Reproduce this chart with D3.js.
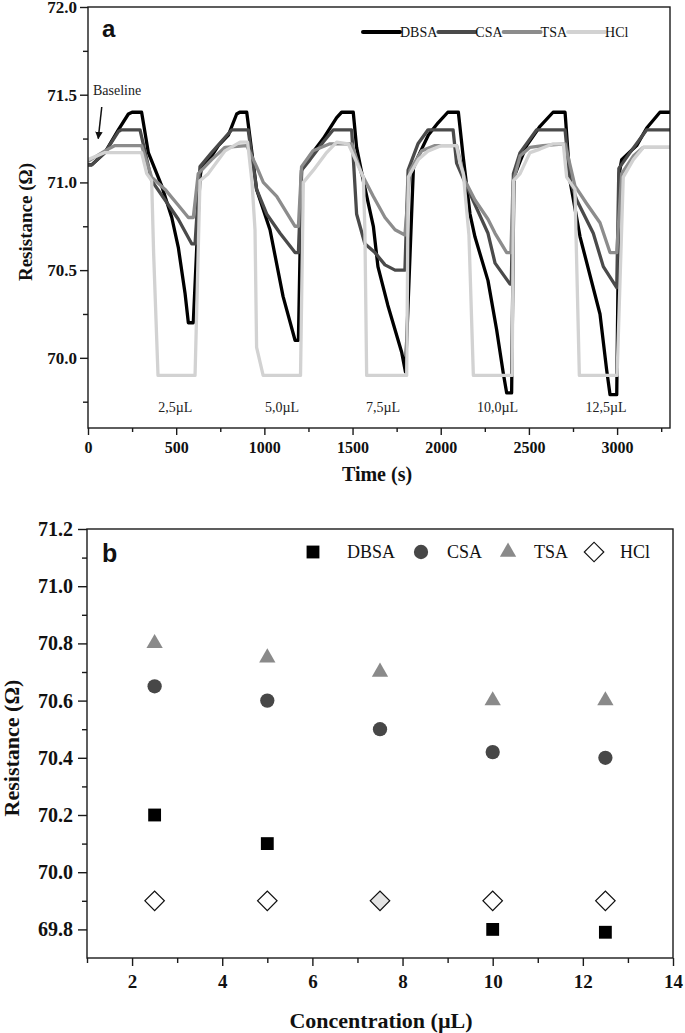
<!DOCTYPE html>
<html><head><meta charset="utf-8">
<script src="https://cdn.jsdelivr.net/npm/d3@7"></script>
<style>body{margin:0;background:#fff;} svg{display:block;background:#fff}</style>
</head><body>
<svg id="c" width="685" height="1033"></svg>
<script>
// ---------- DATA: panel a (time response) ----------
const seriesNames = ["DBSA","CSA","TSA","HCl"];
const dbsaSeries = [[0,71.10],[21,71.10],[96,71.17],[172,71.30],[229,71.39],[250,71.40],[304,71.40],[342,71.17],[418,70.98],[475,70.80],[512,70.63],[550,70.37],[569,70.20],[597,70.20],
 [635,71.03],[645,71.09],[701,71.15],[739,71.21],[796,71.27],[843,71.39],[860,71.40],[900,71.40],
 [956,70.96],[1032,70.73],[1106,70.35],[1174,70.10],[1193,70.10],
 [1211,71.07],[1259,71.15],[1334,71.25],[1410,71.37],[1438,71.40],[1504,71.40],
 [1523,71.20],[1561,71.01],[1618,70.75],[1644,70.52],[1700,70.30],[1779,70.03],[1800,69.92],
 [1845,71.08],[1873,71.15],[1930,71.27],[1985,71.34],[2040,71.40],[2100,71.40],
 [2127,71.15],[2166,70.82],[2194,70.69],[2268,70.44],[2317,70.16],[2355,69.91],[2374,69.80],[2402,69.80],
 [2415,71.03],[2450,71.12],[2487,71.21],[2563,71.32],[2637,71.40],[2705,71.40],
 [2733,71.01],[2790,70.69],[2903,70.25],[2941,69.93],[2960,69.79],[2998,69.79],
 [3012,71.05],[3026,71.13],[3111,71.21],[3168,71.31],[3243,71.40],[3300,71.40]];
const csaSeries = [[0,71.10],[21,71.10],[96,71.17],[172,71.29],[190,71.30],[295,71.30],[361,71.01],[437,70.90],[512,70.79],[588,70.65],[607,70.65],
 [635,71.09],[701,71.17],[815,71.30],[908,71.30],
 [956,70.96],[1013,70.82],[1089,70.71],[1174,70.60],[1193,70.60],
 [1211,71.07],[1259,71.13],[1334,71.23],[1391,71.30],[1495,71.30],
 [1523,70.82],[1570,70.65],[1627,70.60],[1684,70.53],[1741,70.50],[1797,70.50],
 [1815,71.07],[1871,71.22],[1928,71.30],[2070,71.30],
 [2090,71.11],[2155,70.96],[2268,70.71],[2308,70.54],[2393,70.42],[2400,70.42],
 [2412,71.05],[2450,71.17],[2544,71.30],[2705,71.30],
 [2733,71.01],[2771,70.90],[2865,70.71],[2922,70.52],[2998,70.40],
 [3010,71.08],[3073,71.17],[3168,71.30],[3300,71.30]];
const tsaSeries = [[0,71.12],[96,71.18],[153,71.21],[304,71.21],[361,71.03],[437,70.96],[512,70.87],[569,70.80],[597,70.80],
 [625,71.05],[701,71.13],[777,71.20],[900,71.21],
 [956,71.09],[994,71.00],[1070,70.92],[1174,70.75],[1193,70.75],
 [1211,71.09],[1276,71.18],[1372,71.22],[1495,71.22],
 [1551,71.05],[1618,70.92],[1684,70.80],[1741,70.73],[1797,70.70],
 [1826,71.07],[1892,71.18],[1967,71.21],[2090,71.21],
 [2138,71.01],[2194,70.90],[2268,70.79],[2308,70.71],[2374,70.60],[2398,70.60],
 [2410,71.00],[2450,71.15],[2506,71.20],[2580,71.21],[2705,71.22],
 [2761,70.98],[2827,70.88],[2903,70.77],[2960,70.60],[2998,70.60],
 [3026,71.05],[3092,71.15],[3149,71.20],[3300,71.20]];
const hclSeries = [[0,71.13],[96,71.17],[304,71.17],[333,71.05],[361,71.01],[372,70.60],[397,69.90],[607,69.90],
 [635,71.01],[682,71.05],[777,71.18],[862,71.23],[905,71.23],
 [930,71.00],[947,70.73],[956,70.06],[993,69.90],[1205,69.90],
 [1221,71.00],[1278,71.07],[1353,71.17],[1410,71.23],[1476,71.22],
 [1561,71.03],[1570,70.73],[1580,69.90],[1807,69.90],
 [1816,71.03],[1873,71.13],[1930,71.18],[2005,71.21],[2090,71.21],
 [2109,71.11],[2128,71.05],[2160,70.70],[2185,69.90],[2405,69.90],
 [2413,71.01],[2450,71.05],[2506,71.17],[2563,71.19],[2638,71.22],[2695,71.22],
 [2714,71.03],[2761,70.96],[2786,69.90],[3000,69.90],
 [3035,71.03],[3092,71.13],[3149,71.20],[3300,71.20]];
const timeMajorTicks = [0,500,1000,1500,2000,2500,3000];
const timeMinorTicks = [250,750,1250,1750,2250,2750,3250];
const resAMajorTicks = [70.0,70.5,71.0,71.5,72.0];
const resAMinorTicks = [69.75,70.25,70.75,71.25,71.75];
const injectionLabels = ["2,5µL","5,0µL","7,5µL","10,0µL","12,5µL"];
const injectionLabelTimes = [495,1100,1673,2322,2937];

// ---------- DATA: panel b (concentration) ----------
const concentrations = [2.5,5.0,7.5,10.0,12.5];
const dbsaValues = [70.20,70.10,null,69.80,69.79];
const csaValues = [70.65,70.60,70.50,70.42,70.40];
const tsaValues = [70.80,70.75,70.70,70.60,70.60];
const hclValues = [69.90,69.90,69.90,69.90,69.90];
const concMajorTicks = [2,4,6,8,10,12,14];
const concMinorTicks = [1,3,5,7,9,11,13];
const resBMajorTicks = [69.8,70.0,70.2,70.4,70.6,70.8,71.0,71.2];
const resBMinorTicks = [69.9,70.1,70.3,70.5,70.7,70.9,71.1];

// ---------- STYLE ----------
const lineColors = ["#000000","#4a4a4a","#8c8c8c","#d2d2d2"];
const serif = "'Liberation Serif','Times New Roman',serif";
const sans = "'Liberation Sans',Arial,sans-serif";
const axisColor = "#1a1a1a";

const svg = d3.select("#c");

function styleAxis(g){ g.select(".domain").remove(); g.selectAll("line").attr("stroke",axisColor).attr("stroke-width",1.4); }
function styleLabels(size){
  return g=>{
    g.attr("font-family",serif).attr("font-size",size).attr("font-weight","bold");
    g.selectAll("text").attr("font-family",serif).attr("font-weight","bold").attr("font-size",size).attr("fill","#111")
      .style("font-family",serif).style("font-weight","bold");
  };
}

// ================= PANEL A =================
const xA = d3.scaleLinear().domain([0,3300]).range([88,670]);
const yA = d3.scaleLinear().domain([69.6,72.0]).range([428,7]);
const gA = svg.append("g");

gA.append("clipPath").attr("id","clipA").append("rect")
  .attr("x",xA(0)).attr("y",yA(72)).attr("width",xA(3300)-xA(0)).attr("height",yA(69.6)-yA(72));

const lineA = d3.line().x(d=>xA(d[0])).y(d=>yA(d[1]));
const allSeries = [dbsaSeries,csaSeries,tsaSeries,hclSeries];
gA.append("g").attr("clip-path","url(#clipA)").selectAll("path").data(allSeries).join("path")
  .attr("d",lineA).attr("fill","none").attr("stroke",(d,i)=>lineColors[i])
  .attr("stroke-width",3.3).attr("stroke-linejoin","round");

gA.append("rect").attr("x",xA(0)).attr("y",yA(72)).attr("width",xA(3300)-xA(0)).attr("height",yA(69.6)-yA(72))
  .attr("fill","none").attr("stroke",axisColor).attr("stroke-width",1.4);

gA.append("g").attr("transform",`translate(0,${yA(69.6)})`)
  .call(d3.axisBottom(xA).tickValues(timeMajorTicks).tickSize(7).tickPadding(7).tickFormat(d3.format("d")))
  .call(styleAxis).call(styleLabels(16));
gA.append("g").attr("transform",`translate(0,${yA(69.6)})`)
  .call(d3.axisBottom(xA).tickValues(timeMinorTicks).tickSize(4).tickFormat(""))
  .call(styleAxis);
gA.append("g").attr("transform",`translate(${xA(0)},0)`)
  .call(d3.axisLeft(yA).tickValues(resAMajorTicks).tickSize(8).tickPadding(3).tickFormat(d3.format(".1f")))
  .call(styleAxis).call(styleLabels(17));
gA.append("g").attr("transform",`translate(${xA(0)},0)`)
  .call(d3.axisLeft(yA).tickValues(resAMinorTicks).tickSize(5).tickFormat(""))
  .call(styleAxis);

gA.append("text").attr("x",377).attr("y",481).attr("text-anchor","middle")
  .attr("font-family",serif).attr("font-weight","bold").attr("font-size",20).attr("fill","#111").text("Time (s)");
gA.append("text").attr("transform",`translate(32,222) rotate(-90)`).attr("text-anchor","middle")
  .attr("font-family",serif).attr("font-weight","bold").attr("font-size",19).attr("fill","#111").text("Resistance (Ω)");
gA.append("text").attr("x",102).attr("y",37).attr("font-family",sans).attr("font-weight","bold").attr("font-size",24).attr("fill","#111").text("a");

gA.selectAll("text.inj").data(injectionLabels).join("text").attr("class","inj")
  .attr("x",(d,i)=>xA(injectionLabelTimes[i])).attr("y",412).attr("text-anchor","middle")
  .attr("font-family",serif).attr("font-size",14).attr("fill","#222").text(d=>d);

gA.append("text").attr("x",93).attr("y",95).attr("font-family",serif).attr("font-size",14).attr("fill","#222").text("Baseline");
const defs = svg.append("defs");
defs.append("marker").attr("id","arr").attr("viewBox","0 0 10 10").attr("refX",9).attr("refY",5)
  .attr("markerWidth",5).attr("markerHeight",6).attr("orient","auto")
  .append("path").attr("d","M0,0 L10,5 L0,10 z").attr("fill","#111");
gA.append("line").attr("x1",xA(78)).attr("y1",yA(71.43)).attr("x2",xA(58)).attr("y2",yA(71.25))
  .attr("stroke","#111").attr("stroke-width",1.5).attr("marker-end","url(#arr)");

(function(){
  let x = 363; const y = 32;
  seriesNames.forEach((name,i)=>{
    gA.append("line").attr("x1",x).attr("x2",x+37).attr("y1",y).attr("y2",y)
      .attr("stroke",lineColors[i]).attr("stroke-width",4).attr("stroke-linecap","round");
    const t = gA.append("text").attr("x",x+37).attr("y",y+5).attr("font-family",serif).attr("font-size",14).attr("fill","#111").text(name);
    x = x + 37 + t.node().getComputedTextLength() + 1;
  });
})();

// ================= PANEL B =================
const xB = d3.scaleLinear().domain([1,14]).range([87,673]);
const yB = d3.scaleLinear().domain([69.7,71.2]).range([958,529]);
const gB = svg.append("g");

gB.append("rect").attr("x",xB(1)).attr("y",yB(71.2)).attr("width",xB(14)-xB(1)).attr("height",yB(69.7)-yB(71.2))
  .attr("fill","none").attr("stroke",axisColor).attr("stroke-width",1.4);

gB.append("g").attr("transform",`translate(0,${yB(69.7)})`)
  .call(d3.axisBottom(xB).tickValues(concMajorTicks).tickSize(8).tickPadding(9).tickFormat(d3.format("d")))
  .call(styleAxis).call(styleLabels(19));
gB.append("g").attr("transform",`translate(0,${yB(69.7)})`)
  .call(d3.axisBottom(xB).tickValues(concMinorTicks).tickSize(5).tickFormat(""))
  .call(styleAxis);
gB.append("g").attr("transform",`translate(${xB(1)},0)`)
  .call(d3.axisLeft(yB).tickValues(resBMajorTicks).tickSize(9).tickPadding(5).tickFormat(d3.format(".1f")))
  .call(styleAxis).call(styleLabels(20));
gB.append("g").attr("transform",`translate(${xB(1)},0)`)
  .call(d3.axisLeft(yB).tickValues(resBMinorTicks).tickSize(5).tickFormat(""))
  .call(styleAxis);

gB.append("text").attr("x",381).attr("y",1028).attr("text-anchor","middle")
  .attr("font-family",serif).attr("font-weight","bold").attr("font-size",22).attr("fill","#111").text("Concentration (µL)");
gB.append("text").attr("transform",`translate(19,748) rotate(-90)`).attr("text-anchor","middle")
  .attr("font-family",serif).attr("font-weight","bold").attr("font-size",22).attr("fill","#111").text("Resistance (Ω)");
gB.append("text").attr("x",102).attr("y",562).attr("font-family",sans).attr("font-weight","bold").attr("font-size",25).attr("fill","#111").text("b");

const symSquare = d3.symbol().type(d3.symbolSquare).size(165);
const symCircle = d3.symbol().type(d3.symbolCircle).size(160);
const symTriangle = d3.symbol().type(d3.symbolTriangle).size(115);
const symDiamond = d3.symbol().type(d3.symbolSquare).size(190);
const markerDefs = [
  {vals:dbsaValues, path:symSquare(), fill:"#000", stroke:"none", rot:0},
  {vals:csaValues, path:symCircle(), fill:"#474747", stroke:"none", rot:0},
  {vals:tsaValues, path:symTriangle(), fill:"#8a8a8a", stroke:"none", rot:0},
  {vals:hclValues, path:symDiamond(), fill:"#fff", stroke:"#111", rot:45}
];
const hclFills = ["#fff","#fff","#e4e4e4","#fff","#fff"];
markerDefs.forEach((m,k)=>{
  gB.selectAll(null).data(concentrations.map((c,i)=>({c,v:m.vals[i],i})).filter(d=>d.v!==null)).join("path")
    .attr("d",m.path)
    .attr("transform",d=>`translate(${xB(d.c)},${yB(d.v)}) rotate(${m.rot})`)
    .attr("fill",d=>k===3?hclFills[d.i]:m.fill).attr("stroke",m.stroke).attr("stroke-width",1.2);
});

(function(){
  let x = 313; const y = 552;
  seriesNames.forEach((name,i)=>{
    const m = markerDefs[i];
    gB.append("path").attr("d",m.path).attr("transform",`translate(${x},${y}) rotate(${m.rot})`)
      .attr("fill",m.fill).attr("stroke",m.stroke).attr("stroke-width",1.2);
    const tx = x + (i===0?34:26);
    const t = gB.append("text").attr("x",tx).attr("y",y+6).attr("font-family",serif).attr("font-size",18).attr("fill","#111").text(name);
    x = tx + t.node().getComputedTextLength() + 26;
  });
})();
</script>
</body></html>
